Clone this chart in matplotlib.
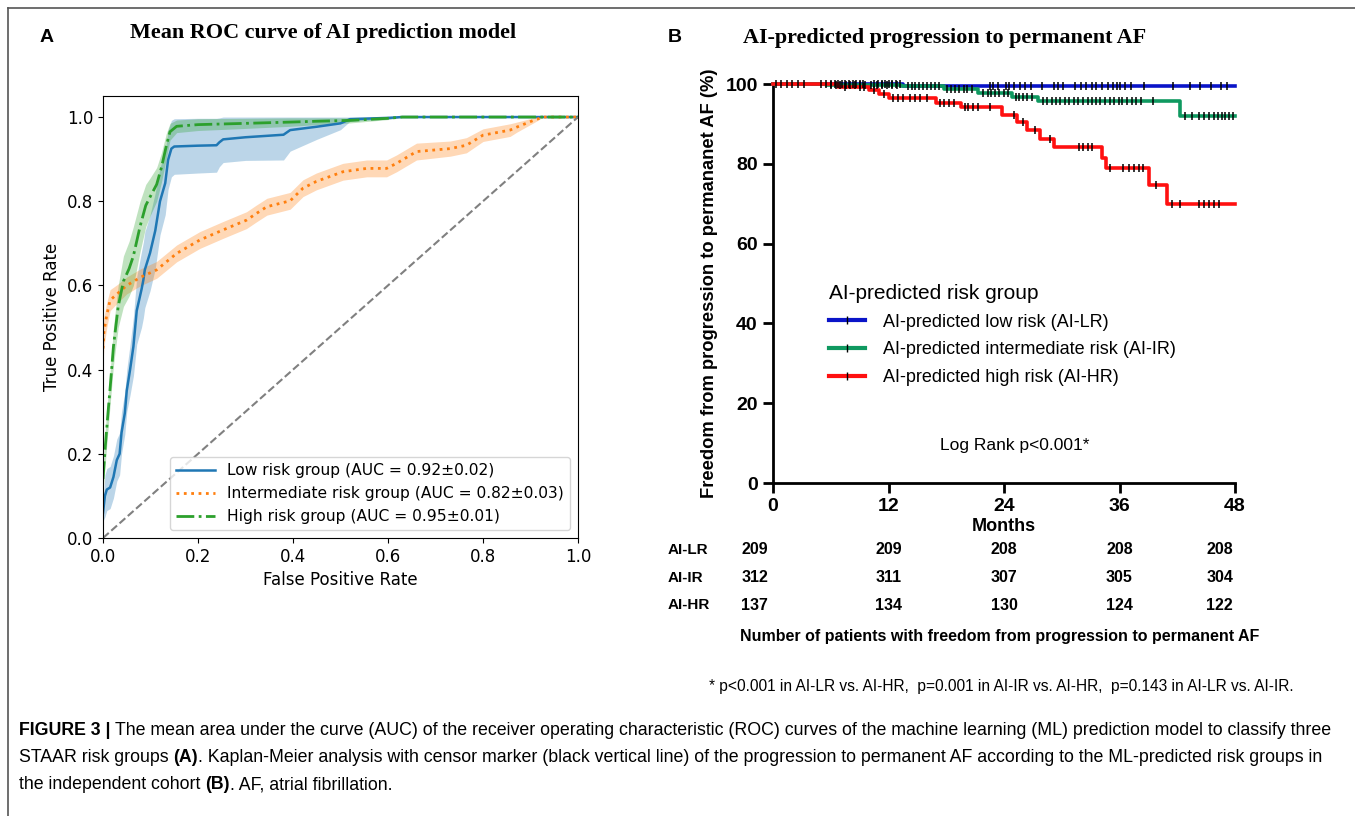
import numpy as np
import matplotlib
matplotlib.use("Agg")
import matplotlib.pyplot as plt
from matplotlib.lines import Line2D

# ---- panel A: mean ROC curves (fpr, mean tpr, std) ----
fpr_lr = [0.0, 0.004, 0.008, 0.015, 0.022, 0.029, 0.035, 0.039, 0.046, 0.05, 0.057, 0.064, 0.071, 0.081,
          0.085, 0.088, 0.099, 0.11, 0.12, 0.131, 0.137, 0.144, 0.15, 0.2, 0.239, 0.245, 0.253, 0.3, 0.38,
          0.394, 0.45, 0.5, 0.52, 0.6, 0.63, 0.7, 0.8, 0.9, 1.0]
tpr_lr = [0.06, 0.1, 0.115, 0.12, 0.145, 0.185, 0.2, 0.25, 0.297, 0.35, 0.40, 0.455, 0.54, 0.59,
          0.613, 0.637, 0.677, 0.73, 0.80, 0.843, 0.898, 0.925, 0.93, 0.932, 0.933, 0.94, 0.947, 0.952, 0.958,
          0.969, 0.977, 0.985, 0.995, 0.998, 1.0, 1.0, 1.0, 1.0, 1.0]
std_lr = [0.02, 0.05, 0.05, 0.05, 0.05, 0.05, 0.05, 0.05, 0.05, 0.05, 0.06, 0.07, 0.08, 0.09,
          0.09, 0.09, 0.09, 0.09, 0.08, 0.075, 0.07, 0.067, 0.066, 0.065, 0.064, 0.058, 0.055, 0.055, 0.06,
          0.05, 0.03, 0.015, 0.005, 0.003, 0.0, 0.0, 0.0, 0.0, 0.0]

fpr_ir = [0.0, 0.002, 0.008, 0.015, 0.03, 0.05, 0.08, 0.113, 0.155, 0.204, 0.253, 0.302, 0.323, 0.345,
          0.394, 0.421, 0.449, 0.505, 0.555, 0.597, 0.618, 0.66, 0.731, 0.765, 0.8, 0.857, 0.871, 0.906,
          0.927, 1.0]
tpr_ir = [0.45, 0.49, 0.53, 0.565, 0.58, 0.6, 0.62, 0.637, 0.676, 0.708, 0.732, 0.755, 0.771, 0.787,
          0.801, 0.831, 0.847, 0.87, 0.878, 0.878, 0.89, 0.918, 0.925, 0.933, 0.957, 0.969, 0.976, 0.992,
          1.0, 1.0]
std_ir = [0.04, 0.035, 0.03, 0.025, 0.022, 0.02, 0.02, 0.02, 0.02, 0.02, 0.02, 0.02, 0.02, 0.02,
          0.02, 0.02, 0.02, 0.02, 0.02, 0.02, 0.02, 0.02, 0.018, 0.018, 0.015, 0.015, 0.012, 0.006,
          0.0, 0.0]

fpr_hr = [0.0, 0.005, 0.01, 0.016, 0.022, 0.032, 0.043, 0.055, 0.064, 0.078, 0.09, 0.099, 0.113, 0.123,
          0.133, 0.141, 0.155, 0.2, 0.3, 0.394, 0.45, 0.52, 0.6, 0.63, 0.7, 0.8, 0.9, 1.0]
tpr_hr = [0.14, 0.22, 0.29, 0.37, 0.455, 0.55, 0.61, 0.64, 0.67, 0.74, 0.79, 0.81, 0.84, 0.88,
          0.93, 0.965, 0.978, 0.982, 0.985, 0.988, 0.99, 0.992, 0.997, 1.0, 1.0, 1.0, 1.0, 1.0]
std_hr = [0.03, 0.04, 0.04, 0.04, 0.045, 0.05, 0.06, 0.065, 0.07, 0.06, 0.05, 0.045, 0.04, 0.035,
          0.03, 0.02, 0.015, 0.014, 0.012, 0.01, 0.008, 0.006, 0.003, 0.0, 0.0, 0.0, 0.0, 0.0]

roc_labels = ["Low risk group (AUC = 0.92\u00b10.02)",
              "Intermediate risk group (AUC = 0.82\u00b10.03)",
              "High risk group (AUC = 0.95\u00b10.01)"]

# ---- panel B: Kaplan-Meier (event months, survival after event, censor months) ----
lr_times = [0, 13.5, 48]
lr_surv = [100, 99.5, 99.5]
lr_cens = [0.3, 0.8, 1.5, 2.0, 2.6, 3.2, 5.0, 5.5, 6.0, 6.4, 6.8, 7.2, 7.5, 7.9, 8.3, 8.6, 9.0, 9.3,
           10.5, 10.9, 11.3, 11.6, 12.0, 12.4, 12.8, 13.2, 22.5, 22.9, 23.4, 24.2, 24.5, 25.0, 25.7,
           26.2, 26.8, 27.9, 29.2, 29.6, 30.1, 31.4, 32.0, 32.5, 33.1, 33.6, 34.2, 34.8, 35.3, 35.7,
           36.1, 36.6, 37.2, 38.5, 41.6, 43.3, 44.4, 45.5, 46.5, 47.2]

ir_times = [0, 5.5, 13.3, 17.8, 21.3, 24.8, 27.5, 42.3, 48]
ir_surv = [100, 99.7, 99.4, 98.7, 97.7, 96.7, 95.8, 91.9, 91.9]
ir_cens = [6.0, 6.5, 7.0, 7.6, 8.0, 8.5, 9.0, 9.6, 10.2, 10.8, 11.3, 11.8, 12.4, 12.9, 14.0, 14.4,
           14.8, 15.2, 15.6, 16.0, 16.4, 16.8, 17.2, 18.1, 18.5, 18.9, 19.3, 19.8, 20.2, 20.7, 21.8,
           22.3, 22.7, 23.1, 23.5, 24.0, 24.4, 25.2, 25.6, 26.0, 26.4, 26.9, 28.0, 28.5, 29.0, 29.4,
           29.8, 30.3, 30.8, 31.3, 31.7, 32.2, 32.7, 33.1, 33.6, 34.0, 34.5, 35.0, 35.4, 35.9, 36.3,
           36.8, 37.3, 37.7, 38.2, 39.5, 42.8, 43.5, 44.3, 44.8, 45.3, 45.8, 46.2, 46.6, 47.0, 47.4, 47.8]

hr_times = [0, 6.8, 10.0, 11.0, 12.0, 16.9, 19.5, 23.8, 25.4, 26.4, 27.7, 29.2, 34.2, 34.6, 39.1, 40.9, 48]
hr_surv = [100, 99.3, 98.5, 97.6, 96.6, 95.3, 94.2, 92.2, 90.5, 88.4, 86.2, 84.2, 81.5, 78.9, 74.7, 70.0, 70.0]
hr_cens = [7.5, 9.0, 9.5, 10.5, 11.5, 12.5, 13.0, 13.5, 14.2, 14.8, 15.3, 16.0, 17.3, 17.8, 18.3, 18.8,
           19.9, 20.3, 20.8, 21.3, 22.5, 25.0, 26.0, 27.2, 28.8, 31.8, 32.2, 32.7, 33.1, 35.0, 36.4,
           37.0, 37.5, 38.0, 38.4, 39.8, 41.5, 42.3, 44.3, 44.8, 45.3, 45.8, 46.3]

km_labels = ["AI-predicted low risk (AI-LR)",
             "AI-predicted intermediate risk (AI-IR)",
             "AI-predicted high risk (AI-HR)"]
km_colors = ["#0a14c8", "#0f9960", "#ff1010"]

risk_rows = ["AI-LR", "AI-IR", "AI-HR"]
risk_months = [0, 12, 24, 36, 48]
n_lr = [209, 209, 208, 208, 208]
n_ir = [312, 311, 307, 305, 304]
n_hr = [137, 134, 130, 124, 122]

W, H = 1355, 816
def fx(px):
    return px / W
def fy(py):
    return 1 - py / H

fig = plt.figure(figsize=(W / 100, H / 100), dpi=100)

# frame lines
fig.add_artist(Line2D([fx(8), 1], [fy(8), fy(8)], color="#555555", lw=1.2))
fig.add_artist(Line2D([fx(8), fx(8)], [fy(8), 0], color="#555555", lw=1.2))

# ================= Panel A =================
axA = fig.add_axes([fx(103), fy(538), (578 - 103) / W, 442 / H])
roc = [(fpr_lr, tpr_lr, std_lr, "#1f77b4", "-", 1.8),
       (fpr_ir, tpr_ir, std_ir, "#ff7f0e", ":", 2.0),
       (fpr_hr, tpr_hr, std_hr, "#2ca02c", "-.", 2.0)]
for (f, t, s, c, ls, lw), lab in zip(roc, roc_labels):
    f = np.array(f); t = np.array(t); s = np.array(s)
    axA.fill_between(f, np.clip(t - s, 0, 1), np.clip(t + s, 0, 1), color=c, alpha=0.3, lw=0)
    axA.plot(f, t, color=c, ls=ls, lw=lw, label=lab)
axA.plot([0, 1], [0, 1], ls="--", color="grey", lw=1.5)
axA.set_xlim(0, 1)
axA.set_ylim(0, 1.05)
axA.set_xticks([0, 0.2, 0.4, 0.6, 0.8, 1.0])
axA.set_yticks([0, 0.2, 0.4, 0.6, 0.8, 1.0])
axA.tick_params(labelsize=12)
axA.set_xlabel("False Positive Rate", fontsize=12)
axA.set_ylabel("True Positive Rate", fontsize=12)
axA.legend(loc="lower right", fontsize=11.2, handlelength=2.5)

fig.text(fx(47), fy(37), "A", fontsize=14, fontweight="bold", ha="center", va="center",
         family="Liberation Sans")
fig.text(fx(323), fy(33), "Mean ROC curve of AI prediction model", fontsize=15.9, fontweight="bold",
         ha="center", va="center", family="Liberation Serif")

# ================= Panel B =================
axB = fig.add_axes([fx(773), fy(483), (1235 - 773) / W, (483 - 84) / H])
km = [(lr_times, lr_surv, lr_cens), (ir_times, ir_surv, ir_cens), (hr_times, hr_surv, hr_cens)]
handles = []
for (tm, sv, cens), col, lab in zip(km, km_colors, km_labels):
    axB.step(tm, sv, where="post", color=col, lw=2.6, clip_on=False, zorder=3)
    tm_a = np.array(tm); sv_a = np.array(sv)
    idx = np.searchsorted(tm_a, np.array(cens), side="right") - 1
    axB.plot(cens, sv_a[idx], ls="none", marker="|", ms=5.5, mew=1.1, color="black",
             clip_on=False, zorder=4)
    handles.append(Line2D([], [], color=col, lw=3, marker="|", ms=6, mew=1, mec="black"))
axB.set_xlim(0, 48)
axB.set_ylim(0, 100)
axB.set_xticks(risk_months)
axB.set_yticks([0, 20, 40, 60, 80, 100])
for sp in ["top", "right"]:
    axB.spines[sp].set_visible(False)
for sp in ["left", "bottom"]:
    axB.spines[sp].set_linewidth(2)
axB.tick_params(direction="out", length=7, width=2, labelsize=14, pad=4)
for lbl in axB.get_xticklabels() + axB.get_yticklabels():
    lbl.set_fontweight("bold")
    lbl.set_family("Liberation Sans")
axB.set_xlabel("Months", fontsize=13, fontweight="bold", family="Liberation Sans", labelpad=2)
axB.set_ylabel("Freedom from progression to permananet AF (%)", fontsize=13.2, fontweight="bold",
               family="Liberation Sans", labelpad=5)
leg = axB.legend(handles, km_labels, loc="upper left", bbox_to_anchor=(0.085, 0.54), frameon=False,
                 title="AI-predicted risk group", title_fontsize=15, handlelength=2,
                 handletextpad=1.0, labelspacing=0.6, alignment="left",
                 prop={"family": "Liberation Sans", "size": 13})
leg.get_title().set_family("Liberation Sans")
axB.text(0.524, 0.095, "Log Rank p<0.001*", transform=axB.transAxes, ha="center", va="center",
         fontsize=12.5, family="Liberation Sans")

fig.text(fx(675), fy(37), "B", fontsize=14, fontweight="bold", ha="center", va="center",
         family="Liberation Sans")
fig.text(fx(945), fy(38), "AI-predicted progression to permanent AF", fontsize=15.9, fontweight="bold",
         ha="center", va="center", family="Liberation Serif")

# number-at-risk table
tbl_x = [-1.9, 12, 24, 36, 46.4]
for row, vals, py in zip(risk_rows, [n_lr, n_ir, n_hr], [550, 578, 605]):
    fig.text(fx(668), fy(py), row, fontsize=11, fontweight="bold", ha="left", va="center",
             family="Liberation Sans")
    for xm, v in zip(tbl_x, vals):
        px = 773 + xm * (1235 - 773) / 48
        fig.text(fx(px), fy(py), str(v), fontsize=11.5, fontweight="bold", ha="center", va="center",
                 family="Liberation Sans")
fig.text(fx(1000), fy(637), "Number of patients with freedom from progression to permanent AF",
         fontsize=11.5, fontweight="bold", ha="center", va="center", family="Liberation Sans")
fig.text(fx(1001), fy(686),
         "* p<0.001 in AI-LR vs. AI-HR,  p=0.001 in AI-IR vs. AI-HR,  p=0.143 in AI-LR vs. AI-IR.",
         fontsize=11.2, ha="center", va="center", family="Liberation Sans")

# caption
axc = fig.add_axes([0, 0, 1, 1])
axc.axis("off")
cap = [
    [("FIGURE 3 | ", "bold"),
     ("The mean area under the curve (AUC) of the receiver operating characteristic (ROC) curves of the "
      "machine learning (ML) prediction model to classify three", "normal")],
    [("STAAR risk groups ", "normal"), ("(A)", "bold"),
     (". Kaplan-Meier analysis with censor marker (black vertical line) of the progression to permanent "
      "AF according to the ML-predicted risk groups in", "normal")],
    [("the independent cohort ", "normal"), ("(B)", "bold"), (". AF, atrial fibrillation.", "normal")],
]
for line, py in zip(cap, [739, 766, 793]):
    prev = None
    for s, w in line:
        if prev is None:
            prev = axc.annotate(s, xy=(fx(19), fy(py)), xycoords="figure fraction", ha="left",
                                va="bottom", fontsize=12.8, fontweight=w, family="Liberation Sans")
        else:
            prev = axc.annotate(s, xy=(1, 0), xycoords=prev, ha="left", va="bottom", fontsize=12.8,
                                fontweight=w, family="Liberation Sans")

fig.savefig("out.png", dpi=100)
